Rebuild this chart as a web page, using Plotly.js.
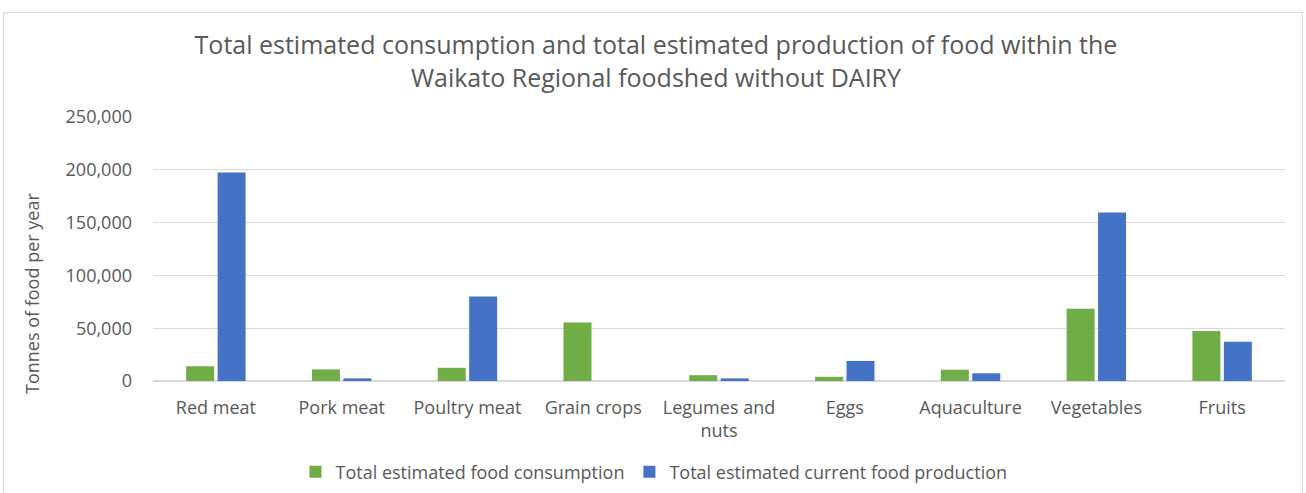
<!DOCTYPE html>
<html>
<head>
<meta charset="utf-8">
<script src="https://cdn.plot.ly/plotly-3.0.1.min.js"></script>
<style>
  html, body { margin: 0; padding: 0; background: #ffffff; }
  #frame { position: absolute; left: 3px; top: 12px; width: 1300px; height: 490px; border: 1px solid #d9d9d9; box-sizing: border-box; }
  #chart { position: absolute; left: 0; top: 0; width: 1306px; height: 493px; }
</style>
</head>
<body>
<div id="frame"></div>
<div id="chart"></div>
<script>
const categories = ["Red meat", "Pork meat", "Poultry meat", "Grain crops", "Legumes and<br>nuts", "Eggs", "Aquaculture", "Vegetables", "Fruits"];
const consumption = [14000, 11000, 12500, 55500, 5500, 4000, 10700, 68400, 47300];
const production = [197500, 2500, 80000, 0, 2500, 19000, 7300, 159500, 37200];
const seriesNames = ["Total estimated food consumption", "Total estimated current food production"];
const yTicks = [0, 50000, 100000, 150000, 200000, 250000];
const yTickLabels = ["0", "50,000", "100,000", "150,000", "200,000", "250,000"];

const fontFam = "'Open Sans', 'Noto Sans', sans-serif";
const grey = "#595959";

const traces = [
  { type: "bar", name: seriesNames[0], x: categories, y: consumption, marker: { color: "#70ad47" }, hoverinfo: "skip" },
  { type: "bar", name: seriesNames[1], x: categories, y: production, marker: { color: "#4472c4" }, hoverinfo: "skip" }
];

const layout = {
  width: 1306, height: 493,
  paper_bgcolor: "rgba(0,0,0,0)", plot_bgcolor: "rgba(0,0,0,0)",
  margin: { l: 153, r: 21, t: 117, b: 112 },
  barmode: "group", bargap: 0.5, bargroupgap: 0.11,
  font: { family: fontFam, color: grey, size: 18 },
  title: {
    text: "Total estimated consumption and total estimated production of food within the<br>Waikato Regional foodshed without DAIRY",
    font: { family: fontFam, size: 25, color: grey },
    x: 656 / 1306, xanchor: "center", xref: "container",
    y: 1 - 54 / 493, yanchor: "middle", yref: "container"
  },
  xaxis: {
    type: "category", tickfont: { size: 18, color: grey, family: fontFam },
    showgrid: false, zeroline: false, showline: false, ticks: "", ticklen: 0,
    ticklabelstandoff: 14
  },
  yaxis: {
    range: [0, 250000], tickvals: yTicks, ticktext: yTickLabels,
    tickfont: { size: 18, color: grey, family: fontFam },
    showgrid: true, gridcolor: "#d9d9d9", gridwidth: 1.3,
    zeroline: true, zerolinecolor: "#d9d9d9", zerolinewidth: 1.3,
    showline: false, ticks: "", ticklabelstandoff: 20
  },
  legend: {
    orientation: "h", x: 654 / 1306, xanchor: "center", xref: "container",
    y: 21 / 493, yanchor: "middle", yref: "container",
    font: { size: 18, color: grey, family: fontFam },
    itemwidth: 30, traceorder: "normal"
  },
  annotations: [{
    text: "Tonnes of food per year", textangle: -90,
    xref: "paper", yref: "paper", x: -121 / 1132, y: (381 - 294) / 264,
    xanchor: "center", yanchor: "middle", showarrow: false,
    font: { size: 18, color: grey, family: fontFam }
  }]
};

Plotly.newPlot("chart", traces, layout, { displayModeBar: false, staticPlot: true });
</script>
</body>
</html>
